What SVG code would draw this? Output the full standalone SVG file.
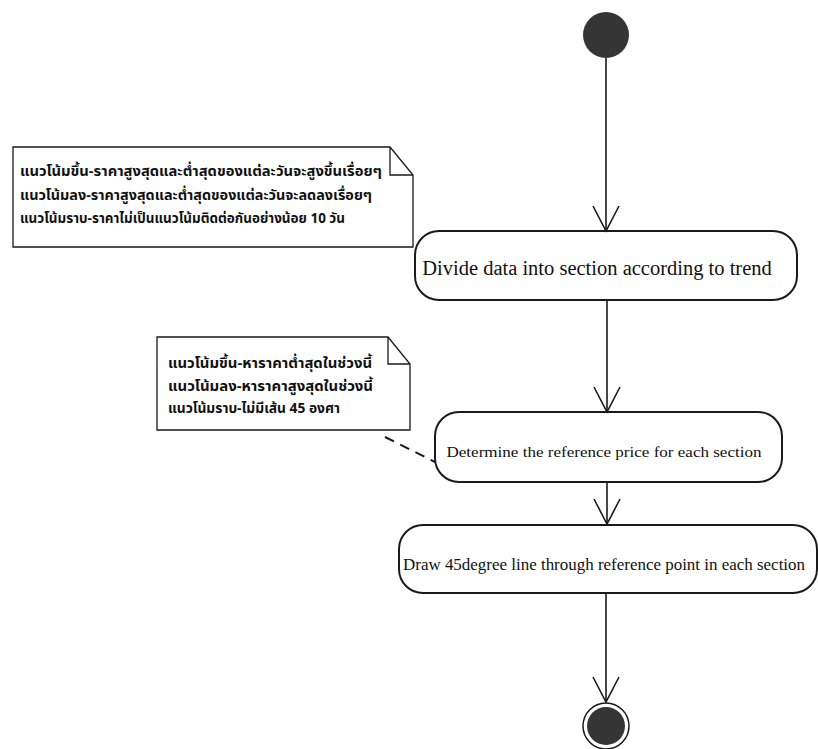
<svg xmlns="http://www.w3.org/2000/svg" width="818" height="749" viewBox="0 0 818 749">
<style>
.bg{fill:#ffffff}
.box{fill:#ffffff;stroke:#1a1a1a;stroke-width:2}
.note{fill:#ffffff;stroke:#1a1a1a;stroke-width:1.3}
.fold{fill:none;stroke:#1a1a1a;stroke-width:1.3}
.lbl{font-family:"Liberation Serif","Times New Roman",serif;fill:#111111;text-anchor:middle}
.thai{font-family:"Noto Sans Thai","Noto Sans","DejaVu Sans",sans-serif;font-weight:bold;font-size:14px;fill:#111111}
.edge{fill:none;stroke:#1a1a1a;stroke-width:1.6}
.dash{fill:none;stroke:#1a1a1a;stroke-width:2;stroke-dasharray:10 7}
</style>
<defs>
<marker id="open" viewBox="0 0 30 30" refX="28" refY="15" markerWidth="30" markerHeight="30" markerUnits="userSpaceOnUse" orient="auto">
<path d="M3,2 L28,15 L3,28" fill="none" stroke="#1a1a1a" stroke-width="1.6"/>
</marker>
</defs>
<rect class="bg" x="0" y="0" width="818" height="749"/>

<g id="start">
<circle cx="606" cy="35" r="23" fill="#353535"/>
</g>

<g id="note1">
<path class="note" d="M13,147 H390 L413,175 V247 H13 Z"/>
<path class="fold" d="M390,147 V175 H413"/>
<text class="thai" x="20" y="176" textLength="362" lengthAdjust="spacingAndGlyphs">แนวโน้มขึ้น-ราคาสูงสุดและต่ำสุดของแต่ละวันจะสูงขึ้นเรื่อยๆ</text>
<text class="thai" x="20" y="200" textLength="352" lengthAdjust="spacingAndGlyphs">แนวโน้มลง-ราคาสูงสุดและต่ำสุดของแต่ละวันจะลดลงเรื่อยๆ</text>
<text class="thai" x="20" y="223" textLength="325" lengthAdjust="spacingAndGlyphs">แนวโน้มราบ-ราคาไม่เป็นแนวโน้มติดต่อกันอย่างน้อย 10 วัน</text>
</g>

<g id="action1">
<rect class="box" x="415" y="231" width="382" height="69" rx="24" ry="24"/>
<text class="lbl" x="597" y="275" font-size="20.5">Divide data into section according to trend</text>
</g>

<g id="note2">
<path class="note" d="M157,337 H388 L410,364 V430 H157 Z"/>
<path class="fold" d="M388,337 V364 H410"/>
<text class="thai" x="168" y="368" textLength="204" lengthAdjust="spacingAndGlyphs">แนวโน้มขึ้น-หาราคาต่ำสุดในช่วงนี้</text>
<text class="thai" x="168" y="391" textLength="205" lengthAdjust="spacingAndGlyphs">แนวโน้มลง-หาราคาสูงสุดในช่วงนี้</text>
<text class="thai" x="168" y="413" textLength="172" lengthAdjust="spacingAndGlyphs">แนวโน้มราบ-ไม่มีเส้น 45 องศา</text>
</g>

<g id="action2">
<rect class="box" x="435" y="412" width="347" height="70" rx="24" ry="24"/>
<text class="lbl" x="604" y="457" font-size="15.5" textLength="315" lengthAdjust="spacingAndGlyphs">Determine the reference price for each section</text>
</g>

<g id="action3">
<rect class="box" x="399" y="525" width="418" height="68" rx="24" ry="24"/>
<text class="lbl" x="604" y="570" font-size="16" textLength="402" lengthAdjust="spacingAndGlyphs">Draw 45degree line through reference point in each section</text>
</g>

<g id="end">
<circle cx="606" cy="726" r="23" fill="#ffffff" stroke="#1a1a1a" stroke-width="1.5"/>
<circle cx="606" cy="726" r="19" fill="#353535"/>
</g>

<g id="connectors">
<line class="edge" x1="606" y1="58" x2="606" y2="231" marker-end="url(#open)"/>
<line class="edge" x1="607" y1="300" x2="607" y2="412" marker-end="url(#open)"/>
<line class="edge" x1="607" y1="482" x2="607" y2="524" marker-end="url(#open)"/>
<line class="edge" x1="606" y1="593" x2="606" y2="702" marker-end="url(#open)"/>
<line class="dash" x1="385" y1="437" x2="435" y2="462"/>
</g>
</svg>
